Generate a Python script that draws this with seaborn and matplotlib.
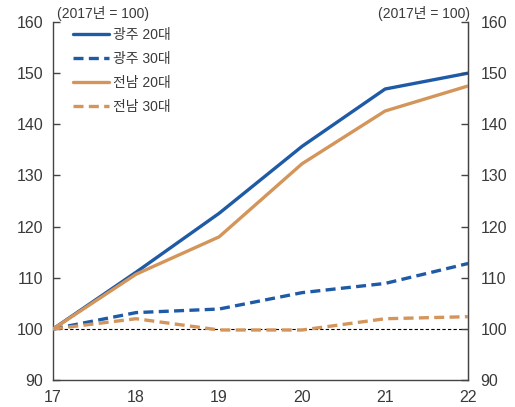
import pandas as pd
import seaborn as sns
import matplotlib.pyplot as plt

years = [17, 18, 19, 20, 21, 22]
gwangju_20 = [100, 111.1, 122.6, 135.7, 146.9, 150.0]
gwangju_30 = [100, 103.2, 103.9, 107.1, 108.9, 112.8]
jeonnam_20 = [100, 110.7, 118.0, 132.3, 142.6, 147.5]
jeonnam_30 = [100, 102.0, 99.8, 99.8, 102.0, 102.4]

series_names = ['광주 20대', '광주 30대', '전남 20대', '전남 30대']
series_vals = [gwangju_20, gwangju_30, jeonnam_20, jeonnam_30]

df = pd.concat([pd.DataFrame({'year': years, 'value': v, 'series': n})
                for n, v in zip(series_names, series_vals)])

sns.set_style('white')
plt.rcParams['font.family'] = ['Liberation Sans', 'Noto Sans CJK KR', 'DejaVu Sans']
text_col = '#3a3a3a'

blue = '#1f5aa6'
orange = '#d4955b'
palette = {'광주 20대': blue, '광주 30대': blue, '전남 20대': orange, '전남 30대': orange}
dashes = {'광주 20대': '', '광주 30대': (3, 1.6), '전남 20대': '', '전남 30대': (3, 1.6)}

fig = plt.figure(figsize=(5.15, 4.07), dpi=100)
ax = fig.add_axes([0.103, 0.066, 0.806, 0.88])
ax.axhline(100, color='black', lw=0.8, ls=(0, (3, 2)), zorder=1)
sns.lineplot(data=df, x='year', y='value', hue='series', style='series',
             palette=palette, dashes=dashes, linewidth=2.4, ax=ax, zorder=3)

ax.set_xlim(17, 22)
ax.set_ylim(90, 160)
ax.set_xticks(years)
ax.set_yticks(range(90, 161, 10))
ax.set_xlabel('')
ax.set_ylabel('')
ax.spines['top'].set_visible(False)
for s in ['left', 'right', 'bottom']:
    ax.spines[s].set_color('#444444')
    ax.spines[s].set_linewidth(1.0)
ax.tick_params(direction='in', length=5, width=1, colors='#444444',
               labelcolor=text_col, labelsize=11.5)
ax.tick_params(axis='x', pad=7)
ax.tick_params(axis='y', pad=7)

ax2 = ax.twinx()
ax2.set_ylim(90, 160)
ax2.set_yticks(range(90, 161, 10))
ax2.spines['top'].set_visible(False)
ax2.spines['left'].set_visible(False)
ax2.spines['bottom'].set_visible(False)
ax2.spines['right'].set_color('#444444')
ax2.tick_params(direction='in', length=5, width=1, colors='#444444',
                labelcolor=text_col, labelsize=11.5, pad=9)

leg = ax.legend(loc='upper left', frameon=False, fontsize=10, handlelength=2.6,
                handletextpad=0.3, labelspacing=0.72, borderaxespad=0.0,
                bbox_to_anchor=(0.035, 1.0))
for t in leg.get_texts():
    t.set_color(text_col)

fig.text(0.111, 0.968, '(2017년 = 100)', fontsize=10, color=text_col, va='center')
fig.text(0.912, 0.968, '(2017년 = 100)', fontsize=10, color=text_col, va='center', ha='right')

fig.savefig('out.png', dpi=100)
